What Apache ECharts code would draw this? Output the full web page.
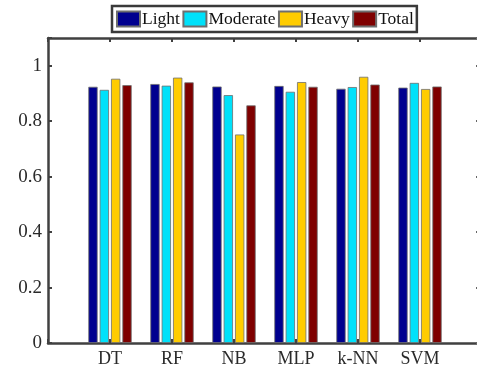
<!DOCTYPE html>
<html>
<head>
<meta charset="utf-8">
<script src="https://cdn.jsdelivr.net/npm/echarts@6/dist/echarts.min.js"></script>
<style>
  html, body { margin: 0; padding: 0; background: #fff; overflow: hidden; }
  #wrap { width: 477px; height: 371px; overflow: hidden; position: relative; }
  #chart { width: 490px; height: 371px; position: absolute; left: 0; top: 0; }
</style>
</head>
<body>
<div id="wrap"><div id="chart"></div></div>
<script>
// Classifier accuracy per traffic level
const categories = ['DT', 'RF', 'NB', 'MLP', 'k-NN', 'SVM'];
const seriesNames = ['Light', 'Moderate', 'Heavy', 'Total'];
const light    = [0.924, 0.934, 0.925, 0.927, 0.917, 0.921];
const moderate = [0.913, 0.928, 0.894, 0.906, 0.923, 0.938];
const heavy    = [0.953, 0.957, 0.752, 0.941, 0.960, 0.916];
const total    = [0.930, 0.940, 0.857, 0.924, 0.932, 0.925];
const yTicks = [0, 0.2, 0.4, 0.6, 0.8, 1];

const colors = ['#00008f', '#00e1fa', '#ffcc00', '#7f0000'];
const values = [light, moderate, heavy, total];

const FONT = '"Liberation Serif", "Times New Roman", serif';
const AX = '#404040';

const chart = echarts.init(document.getElementById('chart'), null, { renderer: 'canvas' });

const axisCommon = {
  axisLine: { show: true, onZero: false, lineStyle: { color: AX, width: 2.5 } },
  axisTick: { show: true, inside: true, length: 4, lineStyle: { color: AX, width: 2 } },
  splitLine: { show: false }
};

chart.setOption({
  animation: false,
  color: colors,
  legend: {
    data: seriesNames,
    left: 112,
    top: 6,
    orient: 'horizontal',
    icon: 'rect',
    itemWidth: 23,
    itemHeight: 15,
    itemGap: 2.5,
    padding: [4, 3, 4, 4],
    borderColor: '#3a3a3a',
    borderWidth: 2.5,
    backgroundColor: '#fff',
    textStyle: { fontFamily: FONT, fontSize: 17.5, color: '#111', padding: [0, 0, 0, -3] }
  },
  grid: { left: 48, top: 38, width: 434, height: 305, containLabel: false },
  xAxis: [
    Object.assign({}, axisCommon, {
      type: 'value', position: 'bottom', min: 0, max: 7, interval: 1,
      axisLabel: {
        fontFamily: FONT, fontSize: 18, color: '#2a2a2a', margin: 7,
        formatter: v => (v >= 1 && v <= categories.length) ? categories[v - 1] : ''
      }
    }),
    Object.assign({}, axisCommon, {
      type: 'value', position: 'top', min: 0, max: 7, interval: 1,
      axisLabel: { show: false }
    })
  ],
  yAxis: [
    Object.assign({}, axisCommon, {
      type: 'value', position: 'left', min: 0, max: 1.1, interval: 0.2,
      axisLabel: {
        fontFamily: FONT, fontSize: 19, color: '#2a2a2a', margin: 6,
        formatter: v => yTicks.some(t => Math.abs(t - v) < 1e-9) ? String(+v.toFixed(1)) : ''
      }
    }),
    Object.assign({}, axisCommon, {
      type: 'value', position: 'right', min: 0, max: 1.1, interval: 0.2,
      axisTick: { show: true, inside: true, length: 6, lineStyle: { color: '#666', width: 2 } },
      axisLabel: { show: false }
    })
  ],
  series: seriesNames.map((name, i) => ({
    name: name,
    type: 'bar',
    xAxisIndex: 0,
    yAxisIndex: 0,
    barWidth: 9.3,
    barGap: '22%',
    itemStyle: { color: colors[i], borderColor: '#6e6e6e', borderWidth: 0.8 },
    data: values[i].map((v, k) => [k + 1, v])
  }))
});
</script>
</body>
</html>
